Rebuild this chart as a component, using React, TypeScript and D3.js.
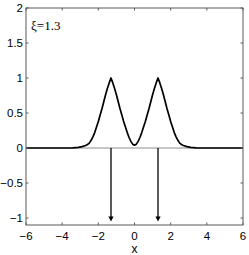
import React from 'react';
import * as d3 from 'd3';

// profile: two cusped peaks at x = ±1.3
const xs = [-6, -4, -3.8, -3.4, -3.1, -2.9, -2.7, -2.6, -2.5, -2.4, -2.3, -2.2, -2.1, -2.0, -1.9, -1.8, -1.7, -1.6, -1.5, -1.4, -1.3,
  -1.2, -1.1, -1.0, -0.9, -0.8, -0.7, -0.6, -0.5, -0.4, -0.3, -0.2, -0.1, 0,
  0.1, 0.2, 0.3, 0.4, 0.5, 0.6, 0.7, 0.8, 0.9, 1.0, 1.1, 1.2, 1.3,
  1.4, 1.5, 1.6, 1.7, 1.8, 1.9, 2.0, 2.1, 2.2, 2.3, 2.4, 2.5, 2.6, 2.7, 2.9, 3.1, 3.4, 3.8, 4, 6];
const ys = [0, 0, 0, 0.003, 0.01, 0.02, 0.035, 0.05, 0.07, 0.11, 0.16, 0.22, 0.30, 0.38, 0.47, 0.56, 0.66, 0.76, 0.85, 0.93, 1.0,
  0.93, 0.85, 0.76, 0.66, 0.56, 0.47, 0.38, 0.30, 0.22, 0.15, 0.095, 0.055, 0.04,
  0.055, 0.095, 0.15, 0.22, 0.30, 0.38, 0.47, 0.56, 0.66, 0.76, 0.85, 0.93, 1.0,
  0.93, 0.85, 0.76, 0.66, 0.56, 0.47, 0.38, 0.30, 0.22, 0.16, 0.11, 0.07, 0.05, 0.035, 0.02, 0.01, 0.003, 0, 0, 0];

const arrowXs = [-1.3, 1.3];
const arrowTip = -1.05;

const xTicks = [-6, -4, -2, 0, 2, 4, 6];
const yTicks = [-1, -0.5, 0, 0.5, 1, 1.5, 2];
const xiLabel = 'ξ=1.3';
const xLabel = 'x';

const W = 249, H = 255;
const L = 26, R = 243, T = 8, B = 225;

const fmt = (v: number) => (v < 0 ? '\u2212' + Math.abs(v) : String(v));

export default function App() {
  const x = d3.scaleLinear().domain([-6, 6]).range([L, R]);
  const y = d3.scaleLinear().domain([-1.1, 2]).range([B, T]);
  const pts = xs.map((v, i) => [v, ys[i]] as [number, number]);
  const line = d3.line<[number, number]>().x(d => x(d[0])).y(d => y(d[1]));
  const axisCol = '#5a5a5a';
  const tl = 2.5;

  return (
    <svg width={W} height={H} style={{ position: 'absolute', left: 0, top: 0, background: '#fff' }}
      fontFamily="'Liberation Sans', Arial, sans-serif">
      {/* zero line */}
      <line x1={x(-6)} x2={x(6)} y1={y(0)} y2={y(0)} stroke="#8c8c8c" strokeWidth={1} />
      {/* arrows */}
      {arrowXs.map(a => (
        <g key={a}>
          <line x1={x(a)} x2={x(a)} y1={y(0)} y2={y(arrowTip) - 4} stroke="#000" strokeWidth={1.3} />
          <path d={`M${x(a) - 2.6},${y(arrowTip) - 5}L${x(a) + 2.6},${y(arrowTip) - 5}L${x(a)},${y(arrowTip)}Z`} fill="#000" />
        </g>
      ))}
      {/* curve */}
      <path d={line(pts) ?? ''} fill="none" stroke="#000" strokeWidth={1.7} strokeLinejoin="round" />
      {/* axes box */}
      <rect x={L} y={T} width={R - L} height={B - T} fill="none" stroke={axisCol} strokeWidth={1} />
      {xTicks.map(t => (
        <g key={'x' + t}>
          <line x1={x(t)} x2={x(t)} y1={B} y2={B - tl} stroke={axisCol} />
          <line x1={x(t)} x2={x(t)} y1={T} y2={T + tl} stroke={axisCol} />
          <text x={x(t)} y={239.5} fontSize={11.5} textAnchor="middle">{fmt(t)}</text>
        </g>
      ))}
      {yTicks.map(t => (
        <g key={'y' + t}>
          <line x1={L} x2={L + tl} y1={y(t)} y2={y(t)} stroke={axisCol} />
          <line x1={R} x2={R - tl} y1={y(t)} y2={y(t)} stroke={axisCol} />
          <text x={L - 3} y={y(t) + 4} fontSize={11.5} textAnchor="end">{fmt(t)}</text>
        </g>
      ))}
      <text x={x(0)} y={253} fontSize={12} textAnchor="middle">{xLabel}</text>
      <text x={31} y={30} fontSize={13} fontFamily="'Liberation Serif', 'Times New Roman', serif">{xiLabel}</text>
    </svg>
  );
}
